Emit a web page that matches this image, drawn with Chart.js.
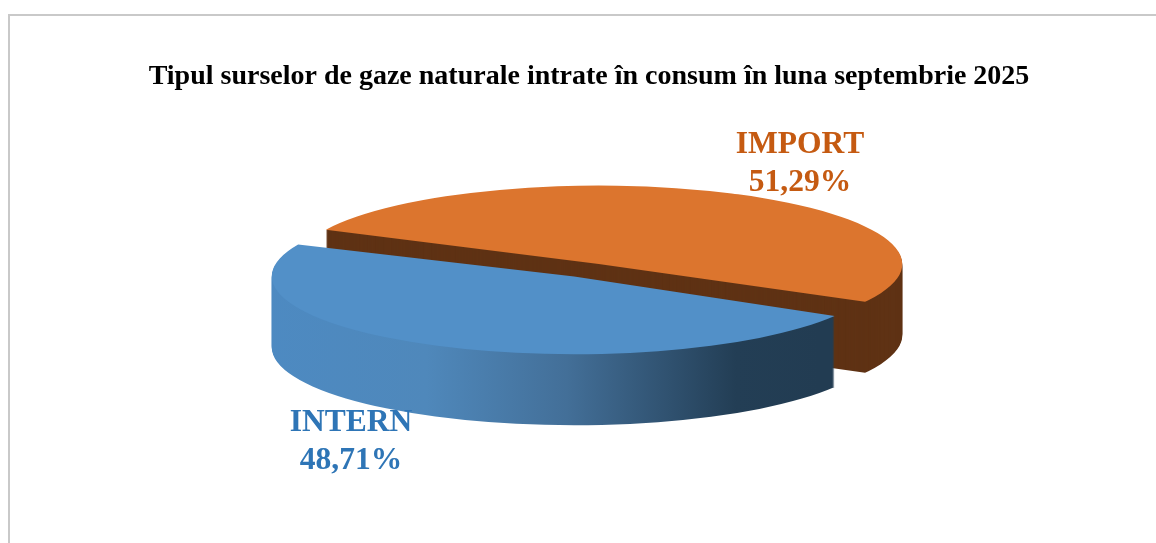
<!DOCTYPE html>
<html>
<head>
<meta charset="utf-8">
<title>Tipul surselor de gaze naturale</title>
<script src="https://cdn.jsdelivr.net/npm/chart.js@4"></script>
<style>
    html, body { margin: 0; padding: 0; background: #ffffff; overflow: hidden; }
    #wrap { position: relative; width: 1156px; height: 543px; }
    #frame { position: absolute; left: 8px; top: 14px; width: 1200px; height: 600px; border: 2px solid #c9c9c9; }
    #chart { position: absolute; left: 0; top: 0; }
</style>
</head>
<body>
<div id="wrap">
    <div id="frame"></div>
    <canvas id="chart" width="1156" height="543"></canvas>
</div>
<script>
const titleText = 'Tipul surselor de gaze naturale intrate în consum în luna septembrie 2025';
const sliceLabels = ['IMPORT', 'INTERN'];
const sliceValues = [51.29, 48.71];

const topColors = ['#dc752e', '#5290c8'];
const labelColors = ['#c55a11', '#2e75b6'];
const labelSpots = [[800, 145], [351, 423]];

// look of the tilted pie
const pieCentre = { x: 581, y: 272 };
const pieRadius = 270; // the arc grows by offset / 4 when drawn
const tilt = 0.26; // vertical squash of the circle
const depth = 71;
// the reference has some perspective, so the slices are not quite the same size
const sliceNudge = [{ x: 3, y: -0.5, sx: 1.005 }, { x: 8, y: -3, sx: 1.01 }];

function sideFill(ctx, index, gradLeft, gradRight) {
    if (index === 0) {
        return '#5f3214';
    }
    // blue wall goes dark to the right
    const grad = ctx.createLinearGradient(gradLeft, 0, gradRight, 0);
    grad.addColorStop(0, '#4d8ac2');
    grad.addColorStop(0.3, '#4f88bb');
    grad.addColorStop(0.55, '#436f98');
    grad.addColorStop(0.85, '#233e55');
    grad.addColorStop(1, '#223c52');
    return grad;
}

const tiltedPie = {
    id: 'tiltedPie',
    beforeDatasetsDraw(chart) {
        const { ctx } = chart;
        const arcs = chart.getDatasetMeta(0).data;
        arcs.forEach((arc, i) => {
            const nudge = sliceNudge[i];
            const cx = pieCentre.x + nudge.x;
            const cy = pieCentre.y + nudge.y;
            // page x 272..835 in the arc's own coordinates
            const gradLeft = (272 - cx) / nudge.sx + arc.x;
            const gradRight = (835 - cx) / nudge.sx + arc.x;
            const saved = arc.options;
            // wall first, built up from the bottom layer
            for (let d = depth; d >= 0; d--) {
                ctx.save();
                ctx.translate(cx, cy + d);
                ctx.scale(nudge.sx, tilt);
                ctx.translate(-arc.x, -arc.y);
                arc.options = Object.assign({}, saved, {
                    backgroundColor: d === 0 ? topColors[i] : sideFill(ctx, i, gradLeft, gradRight)
                });
                arc.draw(ctx);
                ctx.restore();
            }
            arc.options = saved;
        });
        return false;
    },
    afterDraw(chart) {
        const { ctx } = chart;
        ctx.save();
        ctx.font = 'bold 31.5px "Liberation Serif"';
        ctx.textAlign = 'center';
        ctx.textBaseline = 'middle';
        sliceLabels.forEach((label, i) => {
            const [x, y] = labelSpots[i];
            ctx.fillStyle = labelColors[i];
            ctx.fillText(label, x, y);
            ctx.fillText(sliceValues[i].toFixed(2).replace('.', ',') + '%', x, y + 38);
        });
        ctx.restore();
    }
};

new Chart(document.getElementById('chart').getContext('2d'), {
    type: 'pie',
    data: {
        labels: sliceLabels,
        datasets: [{
            data: sliceValues,
            backgroundColor: topColors,
            borderWidth: 0,
            offset: 128
        }]
    },
    options: {
        responsive: false,
        animation: false,
        events: [],
        rotation: 295,
        radius: pieRadius,
        layout: {
            padding: { left: 22 }
        },
        plugins: {
            legend: { display: false },
            tooltip: { enabled: false },
            title: {
                display: true,
                text: titleText,
                color: '#000000',
                font: { family: '"Liberation Serif"', size: 28, weight: 'bold' },
                padding: { top: 60, bottom: 10 }
            }
        }
    },
    plugins: [tiltedPie]
});
</script>
</body>
</html>
